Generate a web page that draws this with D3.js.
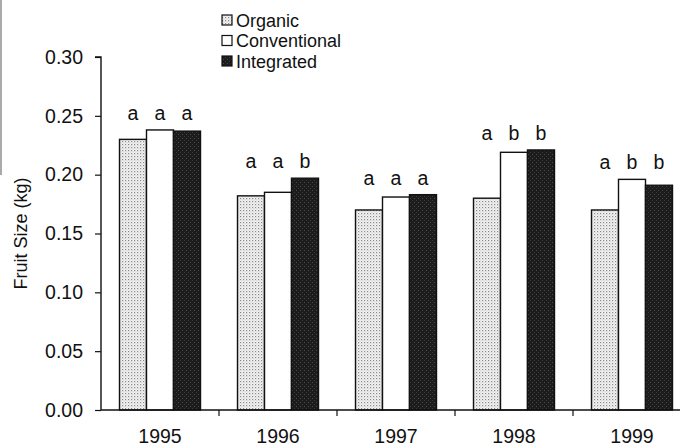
<!DOCTYPE html>
<html>
<head>
<meta charset="utf-8">
<script src="https://cdn.jsdelivr.net/npm/d3@7"></script>
<style>
  body { margin: 0; background: #fff; }
  svg { display: block; font-family: "Liberation Sans", Arial, sans-serif; }
</style>
</head>
<body>
<div id="chart"></div>
<script>
// data
const years = ["1995", "1996", "1997", "1998", "1999"];
const series = ["Organic", "Conventional", "Integrated"];
const organic = [0.230, 0.182, 0.170, 0.180, 0.170];
const conventional = [0.238, 0.185, 0.181, 0.219, 0.196];
const integrated = [0.237, 0.197, 0.183, 0.221, 0.191];
const letters = [
  ["a", "a", "a"],
  ["a", "a", "b"],
  ["a", "a", "a"],
  ["a", "b", "b"],
  ["a", "b", "b"]
];
const yTicks = [0, 0.05, 0.10, 0.15, 0.20, 0.25, 0.30];

const width = 689, height = 447;
const margin = { left: 101, top: 57, right: 1, bottom: 37 };
const fontSize = "19.5px";

const svg = d3.select("#chart").append("svg")
  .attr("width", width)
  .attr("height", height);

//#region patterns
const defs = svg.append("defs");
const dots = defs.append("pattern")
  .attr("id", "dots")
  .attr("width", 3).attr("height", 3)
  .attr("patternUnits", "userSpaceOnUse");
dots.append("rect").attr("width", 3).attr("height", 3).attr("fill", "#f4f4f4");
dots.append("rect").attr("width", 1.2).attr("height", 1.2).attr("fill", "#888");
dots.append("rect").attr("x", 1.5).attr("y", 1.5).attr("width", 1).attr("height", 1).attr("fill", "#bbb");

const dark = defs.append("pattern")
  .attr("id", "dark")
  .attr("width", 4).attr("height", 4)
  .attr("patternUnits", "userSpaceOnUse");
dark.append("rect").attr("width", 4).attr("height", 4).attr("fill", "#1c1c1c");
dark.append("rect").attr("x", 1).attr("y", 2).attr("width", 1).attr("height", 1).attr("fill", "#4a4a4a");
dark.append("rect").attr("x", 3).attr("y", 0).attr("width", 1).attr("height", 1).attr("fill", "#3a3a3a");
//#endregion

const fills = { Organic: "url(#dots)", Conventional: "#fff", Integrated: "url(#dark)" };
const values = { Organic: organic, Conventional: conventional, Integrated: integrated };

//#region scales
const x0 = d3.scaleBand()
  .domain(years)
  .range([margin.left, margin.left + 118 * 5]);
const bw = x0.bandwidth();
const x1 = d3.scaleBand()
  .domain(series)
  .range([18.5, bw - 18.5]);
const y = d3.scaleLinear()
  .domain([0, 0.30])
  .range([height - margin.bottom, margin.top]);
//#endregion

//#region bars
const groups = svg.selectAll("g.year")
  .data(years)
  .enter().append("g")
  .attr("class", "year")
  .attr("transform", d => `translate(${x0(d)},0)`);

groups.selectAll("rect")
  .data((d, i) => series.map(s => ({ s, v: values[s][i] })))
  .enter().append("rect")
  .attr("x", d => x1(d.s))
  .attr("y", d => y(d.v))
  .attr("width", x1.bandwidth())
  .attr("height", d => y(0) - y(d.v))
  .attr("fill", d => fills[d.s])
  .attr("stroke", "#111")
  .attr("stroke-width", 1.4);

// significance letters
groups.selectAll("text.sig")
  .data((d, i) => series.map((s, j) => ({ s, t: letters[i][j], top: d3.max(series, k => values[k][i]) })))
  .enter().append("text")
  .attr("class", "sig")
  .attr("x", d => x1(d.s) + x1.bandwidth() / 2)
  .attr("y", d => y(d.top) - 10)
  .attr("text-anchor", "middle")
  .style("font-size", fontSize)
  .attr("fill", "#111")
  .text(d => d.t);
//#endregion

//#region axes
const axisY = d3.axisLeft(y)
  .tickValues(yTicks)
  .tickFormat(d3.format(".2f"))
  .tickSize(6)
  .tickPadding(12);
const gy = svg.append("g")
  .attr("transform", `translate(${margin.left},0)`)
  .call(axisY);
gy.select(".domain").attr("stroke", "#111").attr("stroke-width", 1.4)
  .attr("d", `M-6,${y(0.30)}H0V${y(0)}`);
gy.selectAll(".tick line").attr("stroke", "#111").attr("stroke-width", 1.2);
gy.selectAll(".tick text").style("font-size", fontSize).attr("fill", "#111")
  .attr("font-family", "Liberation Sans, Arial, sans-serif");

const axisX = d3.axisBottom(x0).tickSize(0).tickPadding(19);
const gx = svg.append("g")
  .attr("transform", `translate(0,${y(0)})`)
  .call(axisX);
gx.select(".domain").attr("stroke", "#111").attr("stroke-width", 1.4)
  .attr("d", `M${margin.left},0H680`);
gx.selectAll(".tick text").style("font-size", fontSize).attr("fill", "#111")
  .attr("font-family", "Liberation Sans, Arial, sans-serif");

// tick marks between year groups
svg.append("g").selectAll("line")
  .data(years.slice(1))
  .enter().append("line")
  .attr("x1", d => x0(d)).attr("x2", d => x0(d))
  .attr("y1", y(0)).attr("y2", y(0) + 6)
  .attr("stroke", "#111").attr("stroke-width", 1.2);

svg.append("text")
  .attr("transform", `translate(27,${(y(0) + y(0.30)) / 2}) rotate(-90)`)
  .attr("text-anchor", "middle")
  .style("font-size", "18px")
  .attr("fill", "#111")
  .text("Fruit Size (kg)");
//#endregion

//#region legend
const legend = svg.append("g").attr("transform", "translate(222,0)");
const items = legend.selectAll("g")
  .data(series)
  .enter().append("g")
  .attr("transform", (d, i) => `translate(0,${20 + i * 20.5})`);
items.append("rect")
  .attr("x", 0).attr("y", -5)
  .attr("width", 10).attr("height", 10)
  .attr("fill", d => fills[d])
  .attr("stroke", "#111")
  .attr("stroke-width", 1.2);
items.append("text")
  .attr("x", 14).attr("y", 6.5)
  .style("font-size", "18px")
  .attr("fill", "#111")
  .text(d => d);
//#endregion

// scanned page edge on the left
svg.append("line")
  .attr("x1", 1).attr("x2", 1).attr("y1", 0).attr("y2", 175)
  .attr("stroke", "#aaa").attr("stroke-width", 2);
</script>
</body>
</html>
